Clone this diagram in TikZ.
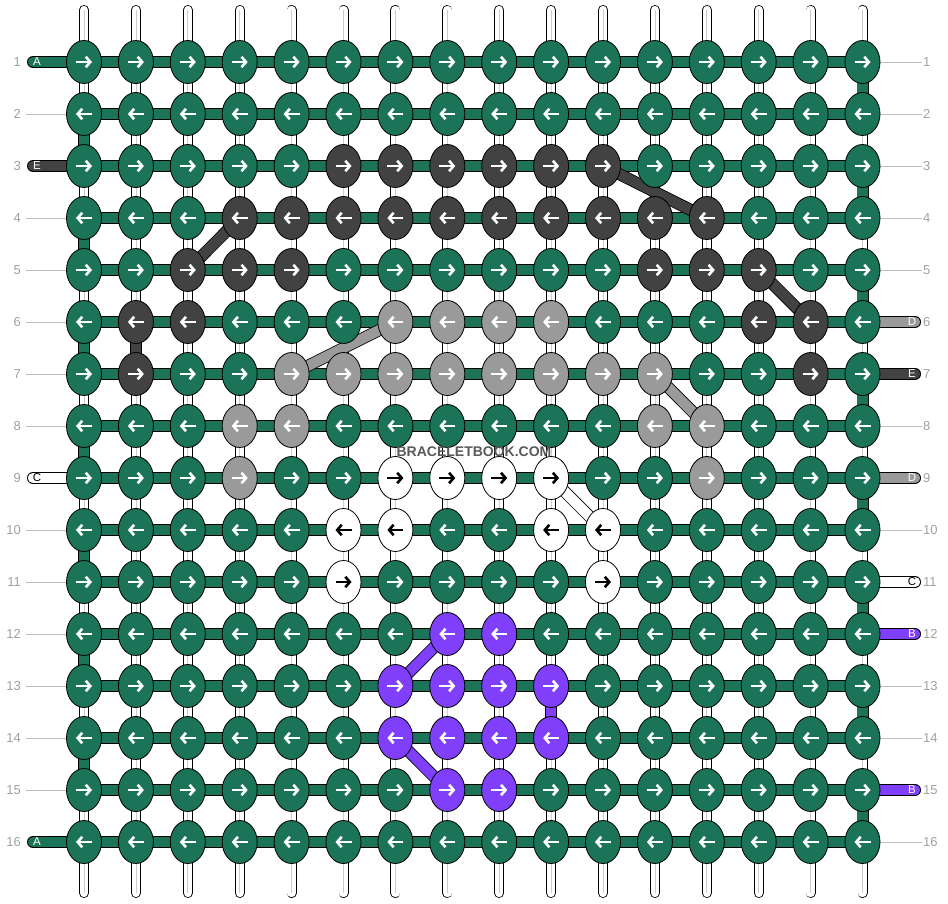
\documentclass[tikz,border=0pt]{standalone}
\usepackage{fontspec}
\setmainfont{Liberation Sans}
\usetikzlibrary{shapes.geometric,arrows.meta}

\definecolor{gruen}{HTML}{1B7358}
\definecolor{dunkel}{HTML}{424242}
\definecolor{hellgrau}{HTML}{9A9A9A}
\definecolor{lila}{HTML}{7F3FFB}
\definecolor{beschriftung}{HTML}{A0A0A0}

\tikzset{
  knoten/.style={ellipse, draw=black, line width=0.8pt, minimum width=35pt, minimum height=43pt, inner sep=0pt},
  kg/.style={fill=gruen}, kd/.style={fill=dunkel}, kh/.style={fill=hellgrau},
  kw/.style={fill=white}, kl/.style={fill=lila},
  ag/.style={white}, ad/.style={white}, ah/.style={white}, al/.style={white}, aw/.style={black},
  pfeil/.style={line width=2.6pt, -{Straight Barb[length=4.5pt,width=10.5pt]}},
  faden/.style={draw=black, line width=0.8pt, double=white, double distance=8.4pt, line cap=round},
  band/.style={draw=black, line width=0.8pt, double=#1, double distance=10.4pt},
  stummel/.style={band=#1, line cap=round},
  hilfslinie/.style={draw=beschriftung!70, line width=0.8pt},
  zahl/.style={text=beschriftung, inner sep=1pt, font=\fontsize{13}{15}\selectfont},
  buchstabe/.style={text=#1, inner sep=0pt, font=\fontsize{11.5}{13}\selectfont}
}

\begin{document}
\begin{tikzpicture}[x=1pt,y=-1pt]
  \useasboundingbox (0,0) rectangle (948,904);
  % Lage der Knoten
  \foreach \r in {1,...,16}
    \foreach \c in {1,...,16}
      \coordinate (p-\r-\c) at ({84+(\c-1)*51.9},{62+(\r-1)*52});
  \foreach \c in {1,...,16} {
    \coordinate (oben-\c) at ({84+(\c-1)*51.9},10);
    \coordinate (unten-\c) at ({84+(\c-1)*51.9},893);
  }
  % Kettfaeden
  \foreach \c in {1,...,16} {
    \draw[faden] (oben-\c) -- (unten-\c);
    \draw[color=black!20, line width=0.8pt] (oben-\c) -- (unten-\c);
  }
  % Knotenfaden
  \foreach \r in {1,...,16}
    \draw[band=gruen] (p-\r-1) -- (p-\r-16);
  \foreach \r/\s in {2/3,4/5,6/7,8/9,10/11,12/13,14/15}
    \draw[band=gruen] (p-\r-1) -- (p-\s-1);
  \foreach \r/\s in {1/2,3/4,5/6,7/8,9/10,11/12,13/14,15/16}
    \draw[band=gruen] (p-\r-16) -- (p-\s-16);
  \draw[band=dunkel] (p-6-2) -- (p-7-2);
  \draw[band=lila] (p-13-10) -- (p-14-10);
  % schraege Faeden
  \draw[band=dunkel] (p-5-3) -- (p-4-4);
  \draw[band=dunkel] (p-3-11) -- (p-4-13);
  \draw[band=dunkel] (p-5-14) -- (p-6-15);
  \draw[band=hellgrau] (p-7-5) -- (p-6-7);
  \draw[band=hellgrau] (p-7-12) -- (p-8-13);
  \draw[band=white] (p-9-10) -- (p-10-11);
  \draw[band=lila] (p-13-7) -- (p-12-8);
  \draw[band=lila] (p-14-7) -- (p-15-8);
  % Enden links und rechts
  \foreach \r/\f/\tf/\bu in {1/gruen/white/A,3/dunkel/white/E,9/white/black/C,16/gruen/white/A} {
    \coordinate (links-\r) at (33,{62+(\r-1)*52});
    \draw[stummel=\f] (links-\r) -- (p-\r-1);
    \node[buchstabe=\tf] (lb-\r) at (37,{62+(\r-1)*52}) {\bu};
  }
  \foreach \r/\f/\tf/\bu in {6/hellgrau/white/D,7/dunkel/white/E,9/hellgrau/white/D,11/white/black/C,12/lila/white/B,15/lila/white/B} {
    \coordinate (rechts-\r) at (915,{62+(\r-1)*52});
    \draw[stummel=\f] (p-\r-16) -- (rechts-\r);
    \node[buchstabe=\tf] (rb-\r) at (912,{62+(\r-1)*52}) {\bu};
  }
  \foreach \r in {2,4,5,6,7,8,10,11,12,13,14,15} {
    \coordinate (links-\r) at (26,{62+(\r-1)*52});
    \draw[hilfslinie] (links-\r) -- (p-\r-1);
  }
  \foreach \r in {1,2,3,4,5,8,10,13,14,16} {
    \coordinate (rechts-\r) at (922,{62+(\r-1)*52});
    \draw[hilfslinie] (p-\r-16) -- (rechts-\r);
  }
  % Reihennummern
  \foreach \r in {1,...,16} {
    \node[zahl, anchor=east] (nl-\r) at (22,{62+(\r-1)*52}) {\r};
    \node[zahl, anchor=west] (nr-\r) at (922,{62+(\r-1)*52}) {\r};
  }
  % Knoten mit Pfeilen
  \foreach \r/\reihe in {
    1/{g,g,g,g,g,g,g,g,g,g,g,g,g,g,g,g},
    2/{g,g,g,g,g,g,g,g,g,g,g,g,g,g,g,g},
    3/{g,g,g,g,g,d,d,d,d,d,d,g,g,g,g,g},
    4/{g,g,g,d,d,d,d,d,d,d,d,d,d,g,g,g},
    5/{g,g,d,d,d,g,g,g,g,g,g,d,d,d,g,g},
    6/{g,d,d,g,g,g,h,h,h,h,g,g,g,d,d,g},
    7/{g,d,g,g,h,h,h,h,h,h,h,h,g,g,d,g},
    8/{g,g,g,h,h,g,g,g,g,g,g,h,h,g,g,g},
    9/{g,g,g,h,g,g,w,w,w,w,g,g,h,g,g,g},
    10/{g,g,g,g,g,w,w,g,g,w,w,g,g,g,g,g},
    11/{g,g,g,g,g,w,g,g,g,g,w,g,g,g,g,g},
    12/{g,g,g,g,g,g,g,l,l,g,g,g,g,g,g,g},
    13/{g,g,g,g,g,g,l,l,l,l,g,g,g,g,g,g},
    14/{g,g,g,g,g,g,l,l,l,l,g,g,g,g,g,g},
    15/{g,g,g,g,g,g,g,l,l,g,g,g,g,g,g,g},
    16/{g,g,g,g,g,g,g,g,g,g,g,g,g,g,g,g}} {
    \pgfmathsetmacro{\von}{ifthenelse(mod(\r,2)==1,-8,8)}
    \pgfmathsetmacro{\bis}{ifthenelse(mod(\r,2)==1,8,-8)}
    \foreach \f [count=\c] in \reihe {
      \node[knoten, k\f] (k-\r-\c) at (p-\r-\c) {};
      \draw[pfeil, a\f] ([xshift=\von pt]k-\r-\c.center) -- ([xshift=\bis pt]k-\r-\c.center);
    }
  }
  \node[text=black!65, font=\bfseries\fontsize{14}{16}\selectfont] (wasserzeichen) at (474,452) {BRACELETBOOK.COM};
\end{tikzpicture}
\end{document}
